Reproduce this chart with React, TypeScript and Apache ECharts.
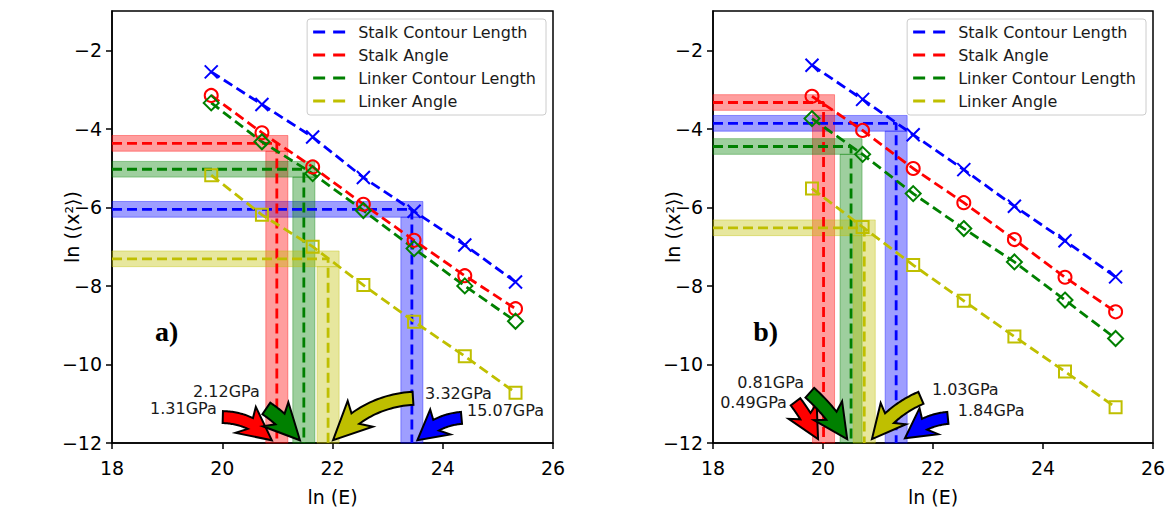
import React, { useEffect, useRef } from "react";
import * as echarts from "echarts";

// ---------- data ----------
const X_VALUES = [19.8, 20.72, 21.64, 22.56, 23.48, 24.4, 25.32];
const SERIES_NAMES = ["Stalk Contour Length", "Stalk Angle", "Linker Contour Length", "Linker Angle"];
const COLORS = ["#0000ff", "#ff0000", "#008000", "#bfbf00"];
const BAND_COLORS = ["rgba(0,0,255,0.38)", "rgba(255,0,0,0.38)", "rgba(0,128,0,0.38)", "rgba(191,191,0,0.38)"];

// panel a)
const A_STALK_CONTOUR = [-2.55, -3.38, -4.21, -5.24, -6.1, -6.96, -7.9];
const A_STALK_ANGLE = [-3.15, -4.1, -4.97, -5.92, -6.84, -7.74, -8.58];
const A_LINKER_CONTOUR = [-3.34, -4.33, -5.14, -6.08, -7.05, -8.0, -8.9];
const A_LINKER_ANGLE = [-5.18, -6.19, -7.0, -7.98, -8.91, -9.79, -10.72];
// panel b)
const B_STALK_CONTOUR = [-2.38, -3.25, -4.15, -5.04, -5.97, -6.85, -7.77];
const B_STALK_ANGLE = [-3.17, -4.04, -5.01, -5.88, -6.82, -7.78, -8.66];
const B_LINKER_CONTOUR = [-3.74, -4.65, -5.65, -6.54, -7.39, -8.36, -9.34];
const B_LINKER_ANGLE = [-5.52, -6.5, -7.47, -8.38, -9.29, -10.18, -11.09];

// modulus cross-hairs (order: stalk contour, stalk angle, linker contour, linker angle)
const A_CROSS_X = [23.44, 20.99, 21.48, 21.92];
const A_CROSS_Y = [-6.05, -4.37, -5.03, -7.31];
const B_CROSS_X = [21.33, 20.01, 20.51, 20.75];
const B_CROSS_Y = [-3.86, -3.33, -4.45, -6.52];
const A_GPA_LABELS = ["15.07GPa", "1.31GPa", "2.12GPa", "3.32GPa"];
const B_GPA_LABELS = ["1.84GPa", "0.49GPa", "0.81GPa", "1.03GPa"];

// annotation anchors (data coords, left-middle of text)
const A_LABEL_POS = [[24.44, -11.16], [18.69, -11.11], [19.47, -10.7], [23.68, -10.73]];
const B_LABEL_POS = [[22.45, -11.16], [18.13, -10.96], [18.44, -10.47], [21.98, -10.65]];
// arrows: tail, tip (data coords), bend, shaft width, head width, head length
const A_ARROWS = [
  { tail: [24.34, -11.36], tip: [23.54, -11.93], bend: 0.2, shaft: 12, head: 32, len: 24 },
  { tail: [20.01, -11.34], tip: [20.9, -11.93], bend: -0.22, shaft: 12, head: 33, len: 27 },
  { tail: [20.8, -11.12], tip: [21.41, -11.93], bend: -0.08, shaft: 14, head: 35, len: 29 },
  { tail: [23.46, -10.86], tip: [22.01, -11.93], bend: 0.22, shaft: 13, head: 36, len: 31 },
];
const B_ARROWS = [
  { tail: [22.27, -11.36], tip: [21.49, -11.88], bend: 0.18, shaft: 12, head: 32, len: 24 },
  { tail: [19.5, -10.95], tip: [19.91, -11.9], bend: -0.05, shaft: 12, head: 32, len: 26 },
  { tail: [19.76, -10.72], tip: [20.44, -11.9], bend: -0.08, shaft: 13, head: 34, len: 28 },
  { tail: [21.78, -10.85], tip: [20.89, -11.9], bend: 0.15, shaft: 13, head: 33, len: 27 },
];
const PANEL_LABELS = ["a)", "b)"];
const PANEL_LABEL_POS = [[18.78, -9.15], [18.73, -9.15]];

const X_TICKS = [18, 20, 22, 24, 26];
const Y_TICKS = [-12, -10, -8, -6, -4, -2];

const X_SYMBOL = "path://M0,0L10,10M10,0L0,10";
const SYMBOLS = [X_SYMBOL, "circle", "diamond", "rect"];
const SYMBOL_SIZES = [13, 13, 15, 12];

const FONT = "DejaVu Sans";
const DASH = [10, 5];

function arrowPolygon(p0: number[], p2: number[], bend: number, shaftW: number, headW: number, headLen: number) {
  const dx = p2[0] - p0[0], dy = p2[1] - p0[1];
  const L = Math.hypot(dx, dy);
  const nx = -dy / L, ny = dx / L;
  const c = [(p0[0] + p2[0]) / 2 + nx * bend * L, (p0[1] + p2[1]) / 2 + ny * bend * L];
  const B = (t: number) => [
    (1 - t) * (1 - t) * p0[0] + 2 * (1 - t) * t * c[0] + t * t * p2[0],
    (1 - t) * (1 - t) * p0[1] + 2 * (1 - t) * t * c[1] + t * t * p2[1],
  ];
  const D = (t: number) => [
    2 * (1 - t) * (c[0] - p0[0]) + 2 * t * (p2[0] - c[0]),
    2 * (1 - t) * (c[1] - p0[1]) + 2 * t * (p2[1] - c[1]),
  ];
  let th = 0.05;
  for (let t = 1; t >= 0; t -= 0.005) {
    const p = B(t);
    if (Math.hypot(p[0] - p2[0], p[1] - p2[1]) >= headLen) { th = t; break; }
  }
  const left: number[][] = [], right: number[][] = [];
  const N = 24;
  for (let i = 0; i <= N; i++) {
    const t = (th * i) / N;
    const p = B(t);
    const d = D(t);
    const dl = Math.hypot(d[0], d[1]) || 1;
    const mx = -d[1] / dl, my = d[0] / dl;
    left.push([p[0] + (mx * shaftW) / 2, p[1] + (my * shaftW) / 2]);
    right.push([p[0] - (mx * shaftW) / 2, p[1] - (my * shaftW) / 2]);
  }
  const hb = B(th);
  const ux0 = p2[0] - hb[0], uy0 = p2[1] - hb[1];
  const ul = Math.hypot(ux0, uy0) || 1;
  const ux = ux0 / ul, uy = uy0 / ul;
  const mx = -uy, my = ux;
  const back = headLen * 0.22;
  const wingL = [hb[0] + (mx * headW) / 2 - ux * back, hb[1] + (my * headW) / 2 - uy * back];
  const wingR = [hb[0] - (mx * headW) / 2 - ux * back, hb[1] - (my * headW) / 2 - uy * back];
  return [...left, wingL, p2, wingR, ...right.reverse()];
}

export default function App() {
  const ref = useRef<HTMLDivElement>(null);
  useEffect(() => {
    if (!ref.current) return;
    const chart = echarts.init(ref.current, undefined, { renderer: "svg" });
    const panels = [
      { vals: [A_STALK_CONTOUR, A_STALK_ANGLE, A_LINKER_CONTOUR, A_LINKER_ANGLE], cx: A_CROSS_X, cy: A_CROSS_Y },
      { vals: [B_STALK_CONTOUR, B_STALK_ANGLE, B_LINKER_CONTOUR, B_LINKER_ANGLE], cx: B_CROSS_X, cy: B_CROSS_Y },
    ];
    const series: any[] = [];
    panels.forEach((panel, p) => {
      for (let k = 0; k < 4; k++) {
        const xv = panel.cx[k], yh = panel.cy[k];
        series.push({
          type: "line",
          xAxisIndex: p, yAxisIndex: p,
          data: [[18, yh], [xv, yh], [xv, -12]],
          symbol: "none", silent: true, z: 2,
          lineStyle: { color: COLORS[k], width: 2.8, type: DASH },
          itemStyle: { color: COLORS[k] },
          markArea: {
            silent: true,
            itemStyle: { color: BAND_COLORS[k], borderColor: BAND_COLORS[k], borderWidth: 1 },
            data: [
              [{ coord: [18, yh - 0.2] }, { coord: [xv + 0.2, yh + 0.2] }],
              [{ coord: [xv - 0.2, -12] }, { coord: [xv + 0.2, yh - 0.2] }],
            ],
          },
        });
      }
      for (let k = 0; k < 4; k++) {
        const data = X_VALUES.map((x, i) => [x, panel.vals[k][i]]);
        series.push({
          name: SERIES_NAMES[k],
          type: "line",
          xAxisIndex: p, yAxisIndex: p,
          data, showSymbol: false, symbol: "none", z: 3, silent: true,
          lineStyle: { color: COLORS[k], width: 2.8, type: DASH },
          itemStyle: { color: COLORS[k] },
        });
        series.push({
          type: "scatter",
          xAxisIndex: p, yAxisIndex: p,
          data, symbol: SYMBOLS[k], symbolSize: SYMBOL_SIZES[k], z: 4, silent: true,
          itemStyle: { color: "rgba(0,0,0,0)", borderColor: COLORS[k], borderWidth: 2, opacity: 1 },
        });
      }
    });

    const axisCommon = {
      nameLocation: "middle",
      nameMoveOverlap: false,
      nameTextStyle: { fontFamily: FONT, fontSize: 19, color: "#000" },
      axisLine: { show: true, onZero: false, lineStyle: { color: "#000", width: 1.5 } },
      axisTick: { show: true, inside: false, length: 6, lineStyle: { color: "#000", width: 1.5 } },
      splitLine: { show: false },
    };

    const option: any = {
      animation: false,
      backgroundColor: "#fff",
      grid: [
        { left: 112, top: 11, width: 441, height: 432, show: true, borderColor: "#000", borderWidth: 1.5, backgroundColor: "transparent" },
        { left: 713, top: 11, width: 440, height: 432, show: true, borderColor: "#000", borderWidth: 1.5, backgroundColor: "transparent" },
      ],
      xAxis: [0, 1].map((p) => ({
        ...axisCommon,
        type: "value", gridIndex: p, min: 18, max: 26, interval: 2,
        name: "ln (E)", nameGap: 44,
        axisLabel: {
          fontFamily: FONT, fontSize: 19, color: "#000", margin: 15,
          customValues: X_TICKS,
        },
        axisTick: { ...axisCommon.axisTick, customValues: X_TICKS },
      })),
      yAxis: [0, 1].map((p) => ({
        ...axisCommon,
        type: "value", gridIndex: p, min: -12, max: -1, interval: 2,
        name: "ln (\u27e8x\u00b2\u27e9)", nameGap: 31,
        axisLabel: {
          fontFamily: FONT, fontSize: 19, color: "#000", margin: 10,
          customValues: Y_TICKS,
          formatter: (v: number) => (Y_TICKS.indexOf(v) >= 0 ? String(v).replace("-", "\u2212") : ""),
        },
        axisTick: { ...axisCommon.axisTick, customValues: Y_TICKS },
      })),
      legend: [0, 1].map((p) => ({
        data: SERIES_NAMES.map((n, k) => ({ name: n, itemStyle: { color: COLORS[k] } })),
        orient: "vertical",
        right: p === 0 ? 629 : 29,
        top: 19,
        icon: "path://M0,0H12V3H0ZM20,0H32V3H20Z",
        itemWidth: 32, itemHeight: 3.3, itemGap: 7,
        padding: [5, 10, 6, 6],
        backgroundColor: "rgba(255,255,255,0.85)",
        borderColor: "#cccccc", borderWidth: 1, borderRadius: 3,
        selectedMode: false,
        textStyle: { fontFamily: FONT, fontSize: 16, color: "#1a1a1a", lineHeight: 16, padding: [0, 0, 0, 8] },
      })),
      series,
    };
    chart.setOption(option);

    const graphic: any[] = [];
    const labelSets = [
      { labels: A_GPA_LABELS, pos: A_LABEL_POS, arrows: A_ARROWS },
      { labels: B_GPA_LABELS, pos: B_LABEL_POS, arrows: B_ARROWS },
    ];
    labelSets.forEach((set, p) => {
      set.labels.forEach((t, k) => {
        const px = chart.convertToPixel({ gridIndex: p }, set.pos[k]) as number[];
        graphic.push({
          type: "text", x: px[0], y: px[1], z: 100,
          style: { text: t, fontFamily: FONT, fontSize: 16, fill: "#1a1a1a", align: "left", verticalAlign: "middle" },
        });
      });
      set.arrows.forEach((a, k) => {
        const t0 = chart.convertToPixel({ gridIndex: p }, a.tail) as number[];
        const t1 = chart.convertToPixel({ gridIndex: p }, a.tip) as number[];
        graphic.push({
          type: "polygon", z: 100,
          shape: { points: arrowPolygon(t0, t1, a.bend, a.shaft, a.head, a.len) },
          style: { fill: COLORS[k], stroke: "#000", lineWidth: 2, lineJoin: "miter" },
        });
      });
      const lp = chart.convertToPixel({ gridIndex: p }, PANEL_LABEL_POS[p]) as number[];
      graphic.push({
        type: "text", x: lp[0], y: lp[1], z: 100,
        style: { text: PANEL_LABELS[p], fontFamily: "Liberation Serif", fontWeight: "bold", fontSize: 28, fill: "#000", align: "left", verticalAlign: "middle" },
      });
    });
    chart.setOption({ graphic });

    return () => chart.dispose();
  }, []);
  return <div ref={ref} style={{ position: "absolute", left: 0, top: 0, width: 1175, height: 515 }} />;
}
